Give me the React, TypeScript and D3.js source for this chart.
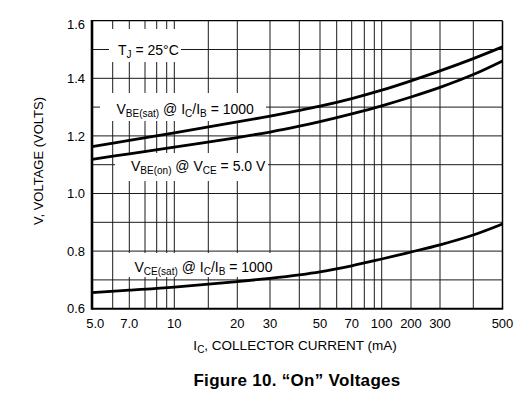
import React from "react";
import * as d3 from "d3";

// ---- data ----
const currentTicks = [5, 7, 10, 20, 30, 50, 70, 100, 200, 300, 500];
const currentTickLabels = ["5.0", "7.0", "10", "20", "30", "50", "70", "100", "200", "300", "500"];
const currentGrid = [6, 7, 8, 9, 9.5, 10, 15, 20, 30, 40, 50, 60, 70, 80, 90, 100, 200, 300, 400];
const voltageTicks = [0.6, 0.8, 1.0, 1.2, 1.4, 1.6];
const voltageTickLabels = ["0.6", "0.8", "1.0", "1.2", "1.4", "1.6"];
const voltageGrid = [0.7, 0.8, 0.9, 1.0, 1.1, 1.2, 1.3, 1.4, 1.5];

const curveCurrents = [5, 7, 10, 20, 30, 40, 50, 70, 100, 200, 300, 400, 500];
const vbeSat = [1.1625, 1.1844, 1.2108, 1.2483, 1.2688, 1.2882, 1.3031, 1.3295, 1.3587, 1.3913, 1.4257, 1.4684, 1.509];
const vbeOn = [1.1188, 1.1378, 1.1611, 1.1944, 1.2135, 1.2337, 1.2497, 1.2767, 1.3045, 1.3351, 1.3684, 1.4129, 1.4601];
const vceSat = [0.6556, 0.6642, 0.675, 0.6941, 0.7056, 0.7177, 0.7281, 0.749, 0.7726, 0.7969, 0.8219, 0.8559, 0.8941];

// ---- layout (the printed axis is not a uniform log scale: piecewise knots) ----
const xKnotValues = [5, 6, 7, 8, 9, 9.5, 10, 15, 20, 30, 40, 50, 60, 70, 80, 90, 100, 200, 300, 400, 500];
const xKnotPos = [92, 112.7, 129.3, 145, 156.7, 166.7, 174.3, 208.3, 237.3, 270, 299.3, 320, 336.7, 351.7, 364.3, 374.3, 381.7, 411, 440, 473.3, 502.5];
const TOP = 20.7;
const BOTTOM = 308.7;
const LEFT = 92;
const RIGHT = 502.5;

const FONT = "'Liberation Sans', Arial, Helvetica, sans-serif";

export default function App() {
  const x = d3.scaleLog().domain(xKnotValues).range(xKnotPos);
  const y = d3.scaleLinear().domain([0.6, 1.6]).range([BOTTOM, TOP]);

  const line = d3
    .line<number>()
    .x((_, i) => x(curveCurrents[i]))
    .y((d) => y(d))
    .curve(d3.curveCatmullRom.alpha(0.5));

  const sub = { fontSize: 10 };

  return (
    <svg
      width={525}
      height={414}
      viewBox="0 0 525 414"
      style={{ position: "absolute", left: 0, top: 0, background: "#fff" }}
      fontFamily={FONT}
    >
      <rect x={0} y={0} width={525} height={414} fill="#fff" />
      {/* grid */}
      <g stroke="#1a1a1a" strokeWidth={1}>
        {currentGrid.map((v) => (
          <line key={"gx" + v} x1={x(v)} x2={x(v)} y1={TOP} y2={BOTTOM} />
        ))}
        {voltageGrid.map((v) => (
          <line key={"gy" + v} x1={LEFT} x2={RIGHT} y1={y(v)} y2={y(v)} />
        ))}
      </g>
      {/* frame */}
      <line x1={LEFT} x2={RIGHT} y1={TOP} y2={TOP} stroke="#000" strokeWidth={1.2} />
      <line x1={RIGHT} x2={RIGHT} y1={TOP} y2={BOTTOM} stroke="#000" strokeWidth={1.5} />
      <line x1={LEFT} x2={RIGHT + 0.7} y1={BOTTOM} y2={BOTTOM} stroke="#000" strokeWidth={2} />
      <line x1={LEFT} x2={LEFT} y1={TOP - 0.6} y2={BOTTOM + 1} stroke="#000" strokeWidth={2.6} />

      {/* label knockouts */}
      <rect x={109} y={29} width={72} height={33} fill="#ffffff" />
      <rect x={100} y={93} width={166} height={28} fill="#ffffff" />
      <rect x={115} y={153} width={153} height={28} fill="#ffffff" />
      <rect x={115} y={253} width={160} height={24} fill="#ffffff" />

      {/* curves */}
      <g fill="none" stroke="#000" strokeWidth={2.8} strokeLinecap="butt">
        <path d={line(vbeSat) || ""} />
        <path d={line(vbeOn) || ""} />
        <path d={line(vceSat) || ""} />
      </g>

      {/* curve labels */}
      <g fontSize={14} fill="#000">
        <text x={118} y={54.5}>
          T<tspan dy={3} style={sub}>J</tspan>
          <tspan dy={-3}> = 25°C</tspan>
        </text>
        <text x={116.5} y={114.3}>
          V<tspan dy={3} style={sub}>BE(sat)</tspan>
          <tspan dy={-3}> @ I</tspan>
          <tspan dy={3} style={sub}>C</tspan>
          <tspan dy={-3}>/I</tspan>
          <tspan dy={3} style={sub}>B</tspan>
          <tspan dy={-3}> = 1000</tspan>
        </text>
        <text x={131} y={171}>
          V<tspan dy={3} style={sub}>BE(on)</tspan>
          <tspan dy={-3}> @ V</tspan>
          <tspan dy={3} style={sub}>CE</tspan>
          <tspan dy={-3}> = 5.0 V</tspan>
        </text>
        <text x={134.5} y={271.5}>
          V<tspan dy={3} style={sub}>CE(sat)</tspan>
          <tspan dy={-3}> @ I</tspan>
          <tspan dy={3} style={sub}>C</tspan>
          <tspan dy={-3}>/I</tspan>
          <tspan dy={3} style={sub}>B</tspan>
          <tspan dy={-3}> = 1000</tspan>
        </text>
      </g>

      {/* y tick labels */}
      <g fontSize={13} textAnchor="end" fill="#000">
        {voltageTicks.map((v, i) => (
          <text key={"yt" + v} x={85} y={Math.max(y(v), TOP + 4)} dy="0.36em">
            {voltageTickLabels[i]}
          </text>
        ))}
      </g>
      {/* x tick labels */}
      <g fontSize={13} textAnchor="middle" fill="#000">
        {currentTicks.map((v, i) => (
          <text key={"xt" + v} x={x(v) + (i === 0 ? 3.3 : 0)} y={327.7}>
            {currentTickLabels[i]}
          </text>
        ))}
      </g>

      {/* axis titles */}
      <text x={295} y={350} fontSize={13.5} textAnchor="middle" fill="#000">
        I<tspan dy={3} style={sub}>C</tspan>
        <tspan dy={-3}>, COLLECTOR CURRENT (mA)</tspan>
      </text>
      <text
        transform="translate(43,161) rotate(-90)"
        fontSize={13}
        textAnchor="middle"
        fill="#000"
      >
        V, VOLTAGE (VOLTS)
      </text>

      {/* figure caption */}
      <text
        x={297}
        y={386}
        fontSize={17}
        fontWeight="bold"
        letterSpacing={0.3}
        textAnchor="middle"
        fill="#000"
      >
        Figure 10. “On” Voltages
      </text>
    </svg>
  );
}
